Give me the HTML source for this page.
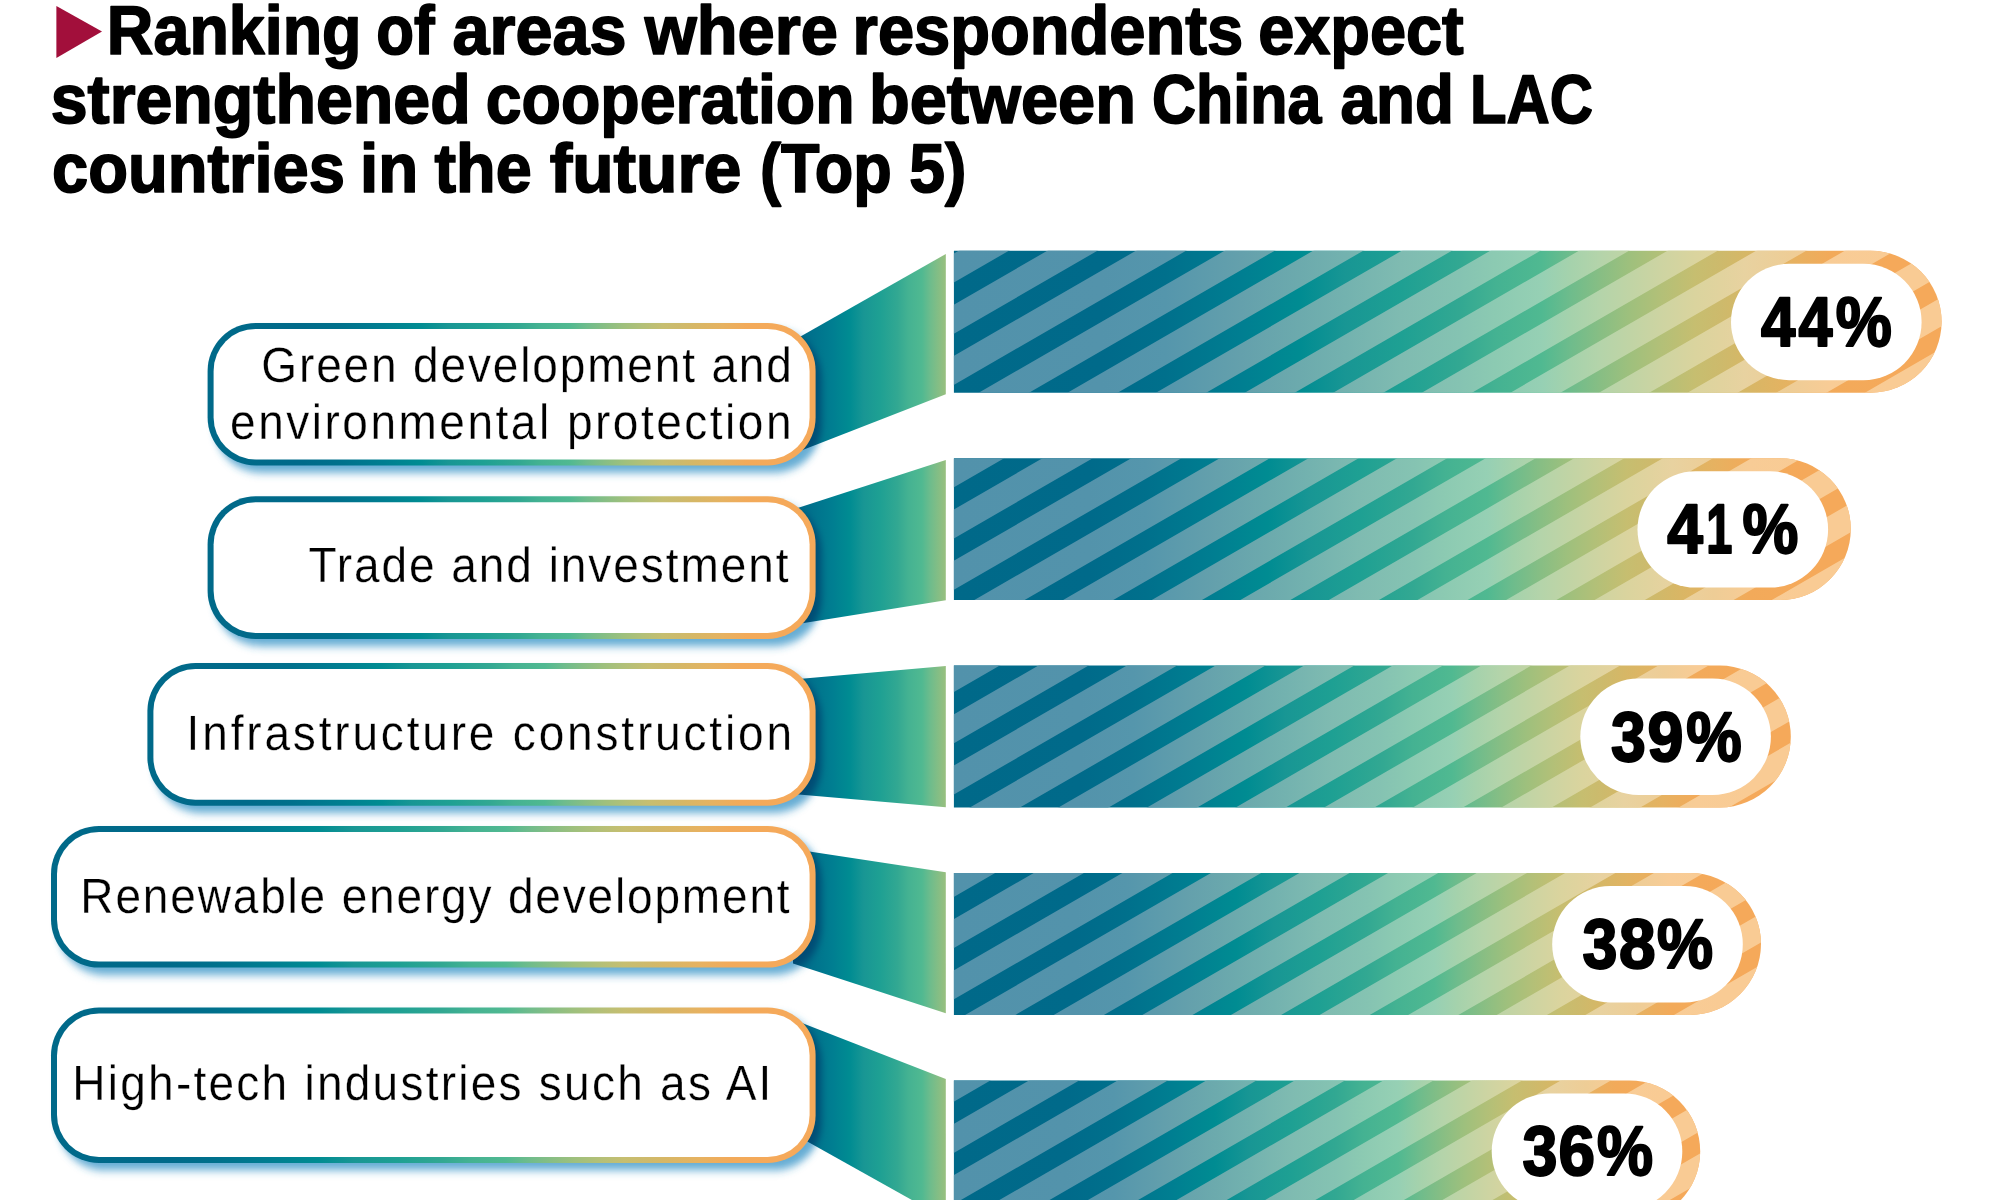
<!DOCTYPE html>
<html lang="en"><head><meta charset="utf-8">
<title>Ranking of areas where respondents expect strengthened cooperation between China and LAC countries in the future (Top 5)</title>
<style>html,body{margin:0;padding:0;background:#fff;}body{width:2000px;height:1200px;overflow:hidden;}svg{display:block;}text{font-family:"Liberation Sans",sans-serif;fill:#000;text-rendering:geometricPrecision;}.t{font-weight:700;font-size:69px;stroke:#000;stroke-width:1.7px;stroke-linejoin:round;}.l{font-weight:400;font-size:49.5px;stroke:#fff;stroke-width:0.3px;}.p{font-weight:700;font-size:70px;stroke:#000;stroke-width:2.2px;stroke-linejoin:round;}</style></head><body>
<svg width="2000" height="1200" viewBox="0 0 2000 1200">
<defs>
<linearGradient id="gD" x1="0" y1="0" x2="1" y2="0"><stop offset="0.000" stop-color="#006989"/><stop offset="0.150" stop-color="#006a8a"/><stop offset="0.214" stop-color="#00708c"/><stop offset="0.290" stop-color="#007e91"/><stop offset="0.350" stop-color="#008c92"/><stop offset="0.396" stop-color="#189694"/><stop offset="0.452" stop-color="#1ea093"/><stop offset="0.512" stop-color="#32a892"/><stop offset="0.548" stop-color="#44b292"/><stop offset="0.595" stop-color="#50b991"/><stop offset="0.624" stop-color="#6ebc8c"/><stop offset="0.654" stop-color="#87be84"/><stop offset="0.684" stop-color="#9ec07d"/><stop offset="0.715" stop-color="#b2c078"/><stop offset="0.750" stop-color="#c6be70"/><stop offset="0.776" stop-color="#cdba6c"/><stop offset="0.801" stop-color="#d6b766"/><stop offset="0.847" stop-color="#e6b261"/><stop offset="0.887" stop-color="#f2aa5a"/><stop offset="0.948" stop-color="#f5a95a"/><stop offset="1.000" stop-color="#f5a95a"/></linearGradient>
<linearGradient id="gL" x1="0" y1="0" x2="1" y2="0"><stop offset="0.000" stop-color="#5292ab"/><stop offset="0.150" stop-color="#5393ab"/><stop offset="0.214" stop-color="#5596ac"/><stop offset="0.290" stop-color="#64a0ac"/><stop offset="0.350" stop-color="#6caaad"/><stop offset="0.396" stop-color="#73b2af"/><stop offset="0.452" stop-color="#7fbbb1"/><stop offset="0.512" stop-color="#85c3b2"/><stop offset="0.548" stop-color="#8ccab2"/><stop offset="0.595" stop-color="#96d0b4"/><stop offset="0.624" stop-color="#a5d2ac"/><stop offset="0.654" stop-color="#b4d4aa"/><stop offset="0.684" stop-color="#c0d4a5"/><stop offset="0.715" stop-color="#cdd4a2"/><stop offset="0.750" stop-color="#dad49e"/><stop offset="0.776" stop-color="#e1d39e"/><stop offset="0.801" stop-color="#e8d2a0"/><stop offset="0.847" stop-color="#eecd96"/><stop offset="0.887" stop-color="#f8cc96"/><stop offset="0.948" stop-color="#f9cb94"/><stop offset="1.000" stop-color="#f9cb94"/></linearGradient>
<linearGradient id="gC" gradientUnits="userSpaceOnUse" x1="747" y1="0" x2="1041" y2="0"><stop offset="0.000" stop-color="#006989"/><stop offset="0.150" stop-color="#006a8a"/><stop offset="0.214" stop-color="#00708c"/><stop offset="0.290" stop-color="#007e91"/><stop offset="0.350" stop-color="#008c92"/><stop offset="0.396" stop-color="#189694"/><stop offset="0.452" stop-color="#1ea093"/><stop offset="0.512" stop-color="#32a892"/><stop offset="0.548" stop-color="#44b292"/><stop offset="0.595" stop-color="#50b991"/><stop offset="0.624" stop-color="#6ebc8c"/><stop offset="0.654" stop-color="#87be84"/><stop offset="0.684" stop-color="#9ec07d"/><stop offset="0.715" stop-color="#b2c078"/><stop offset="0.750" stop-color="#c6be70"/><stop offset="0.776" stop-color="#cdba6c"/><stop offset="0.801" stop-color="#d6b766"/><stop offset="0.847" stop-color="#e6b261"/><stop offset="0.887" stop-color="#f2aa5a"/><stop offset="0.948" stop-color="#f5a95a"/><stop offset="1.000" stop-color="#f5a95a"/></linearGradient>
<filter id="fS" x="-5%" y="-25%" width="110%" height="160%"><feGaussianBlur stdDeviation="3 4.1"/></filter>
<mask id="mS" maskUnits="userSpaceOnUse" x="900" y="200" width="1100" height="1000"><path d="M900 247.94L2000 -387.66M900 299.14L2000 -336.46M900 350.34L2000 -285.26M900 401.54L2000 -234.06M900 452.74L2000 -182.86M900 503.93L2000 -131.66M900 555.13L2000 -80.47M900 606.33L2000 -29.27M900 657.53L2000 21.93M900 708.73L2000 73.13M900 759.92L2000 124.33M900 811.12L2000 175.53M900 862.32L2000 226.72M900 913.52L2000 277.92M900 964.72L2000 329.12M900 1015.92L2000 380.32M900 1067.11L2000 431.52M900 1118.31L2000 482.71M900 1169.51L2000 533.91M900 1220.71L2000 585.11M900 1271.91L2000 636.31M900 1323.1L2000 687.51M900 1374.3L2000 738.71M900 1425.5L2000 789.9M900 1476.7L2000 841.1M900 1527.9L2000 892.3M900 1579.1L2000 943.5M900 1630.29L2000 994.7M900 1681.49L2000 1045.89M900 1732.69L2000 1097.09M900 1783.89L2000 1148.29M900 1835.09L2000 1199.49M900 1886.28L2000 1250.69" fill="none" stroke="#fff" stroke-width="25.1"/></mask>
</defs>
<rect width="2000" height="1200" fill="#fff"/>
<path d="M793 340.79L945.8 254V394.2L793 453.64Z" fill="url(#gC)"/>
<path d="M793 509.51L945.8 460V600.3L793 624.75Z" fill="url(#gC)"/>
<path d="M793 679.45L945.8 666V807.3L793 794.08Z" fill="url(#gC)"/>
<path d="M793 849.07L945.8 872.3V1013.3L793 963.49Z" fill="url(#gC)"/>
<path d="M793 1019.41L945.8 1079V1219L793 1133.43Z" fill="url(#gC)"/>
<rect x="213.6" y="330.2" width="608" height="142.5" rx="48" fill="#3391c6" fill-opacity="0.75" filter="url(#fS)" style="mix-blend-mode:multiply"/>
<rect x="213.6" y="503.6" width="608" height="142.6" rx="48" fill="#3391c6" fill-opacity="0.75" filter="url(#fS)" style="mix-blend-mode:multiply"/>
<rect x="153.4" y="670.4" width="668.2" height="142.6" rx="48" fill="#3391c6" fill-opacity="0.75" filter="url(#fS)" style="mix-blend-mode:multiply"/>
<rect x="57" y="833.2" width="764.6" height="141.7" rx="48" fill="#3391c6" fill-opacity="0.75" filter="url(#fS)" style="mix-blend-mode:multiply"/>
<rect x="57" y="1014.7" width="764.6" height="155.6" rx="48" fill="#3391c6" fill-opacity="0.75" filter="url(#fS)" style="mix-blend-mode:multiply"/>
<rect x="207.6" y="322.9" width="608" height="142.5" rx="48" fill="url(#gD)"/>
<rect x="213.6" y="328.9" width="596" height="130.5" rx="42" fill="#fff"/>
<rect x="207.6" y="496.3" width="608" height="142.6" rx="48" fill="url(#gD)"/>
<rect x="213.6" y="502.3" width="596" height="130.6" rx="42" fill="#fff"/>
<rect x="147.4" y="663.1" width="668.2" height="142.6" rx="48" fill="url(#gD)"/>
<rect x="153.4" y="669.1" width="656.2" height="130.6" rx="42" fill="#fff"/>
<rect x="51" y="825.9" width="764.6" height="141.7" rx="48" fill="url(#gD)"/>
<rect x="57" y="831.9" width="752.6" height="129.7" rx="42" fill="#fff"/>
<rect x="51" y="1007.4" width="764.6" height="155.6" rx="48" fill="url(#gD)"/>
<rect x="57" y="1013.4" width="752.6" height="143.6" rx="42" fill="#fff"/>
<path d="M953.9 250.8H1870.65A70.95 70.95 0 0 1 1870.65 392.7H953.9Z" fill="url(#gD)"/>
<g mask="url(#mS)"><path d="M953.9 250.8H1870.65A70.95 70.95 0 0 1 1870.65 392.7H953.9Z" fill="url(#gL)"/></g>
<rect x="1731" y="263.8" width="190.6" height="116.4" rx="58.2" fill="#fff"/>
<path d="M953.9 458.2H1779.85A70.95 70.95 0 0 1 1779.85 600.1H953.9Z" fill="url(#gD)"/>
<g mask="url(#mS)"><path d="M953.9 458.2H1779.85A70.95 70.95 0 0 1 1779.85 600.1H953.9Z" fill="url(#gL)"/></g>
<rect x="1637.5" y="471.2" width="190.6" height="116.4" rx="58.2" fill="#fff"/>
<path d="M953.9 665.6H1719.85A70.95 70.95 0 0 1 1719.85 807.5H953.9Z" fill="url(#gD)"/>
<g mask="url(#mS)"><path d="M953.9 665.6H1719.85A70.95 70.95 0 0 1 1719.85 807.5H953.9Z" fill="url(#gL)"/></g>
<rect x="1580.3" y="678.6" width="190.6" height="116.4" rx="58.2" fill="#fff"/>
<path d="M953.9 873H1690.05A70.95 70.95 0 0 1 1690.05 1014.9H953.9Z" fill="url(#gD)"/>
<g mask="url(#mS)"><path d="M953.9 873H1690.05A70.95 70.95 0 0 1 1690.05 1014.9H953.9Z" fill="url(#gL)"/></g>
<rect x="1552.2" y="886" width="190.6" height="116.4" rx="58.2" fill="#fff"/>
<path d="M953.9 1080.4H1629.25A70.95 70.95 0 0 1 1629.25 1222.3H953.9Z" fill="url(#gD)"/>
<g mask="url(#mS)"><path d="M953.9 1080.4H1629.25A70.95 70.95 0 0 1 1629.25 1222.3H953.9Z" fill="url(#gL)"/></g>
<rect x="1491.7" y="1093.4" width="190.6" height="116.4" rx="58.2" fill="#fff"/>
<path d="M56.4 6L102 31.6L56.4 58Z" fill="#a20f3b"/>
<text class="t"><tspan x="106.86" y="54" textLength="254.69" lengthAdjust="spacingAndGlyphs">Ranking</tspan> <tspan x="376.32" y="54" textLength="58.39" lengthAdjust="spacingAndGlyphs">of</tspan> <tspan x="452.48" y="54" textLength="174.06" lengthAdjust="spacingAndGlyphs">areas</tspan> <tspan x="644.65" y="54" textLength="193.19" lengthAdjust="spacingAndGlyphs">where</tspan> <tspan x="852.59" y="54" textLength="390.53" lengthAdjust="spacingAndGlyphs">respondents</tspan> <tspan x="1258.19" y="54" textLength="205.53" lengthAdjust="spacingAndGlyphs">expect</tspan></text>
<text class="t"><tspan x="50.75" y="122.9" textLength="419.93" lengthAdjust="spacingAndGlyphs">strengthened</tspan> <tspan x="485.76" y="122.9" textLength="368.78" lengthAdjust="spacingAndGlyphs">cooperation</tspan> <tspan x="868.97" y="122.9" textLength="266.98" lengthAdjust="spacingAndGlyphs">between</tspan> <tspan x="1152.09" y="122.9" textLength="169.2" lengthAdjust="spacingAndGlyphs">China</tspan> <tspan x="1340.58" y="122.9" textLength="113.38" lengthAdjust="spacingAndGlyphs">and</tspan> <tspan x="1470.04" y="122.9" textLength="122.94" lengthAdjust="spacingAndGlyphs">LAC</tspan></text>
<text class="t"><tspan x="52.02" y="191.7" textLength="292.89" lengthAdjust="spacingAndGlyphs">countries</tspan> <tspan x="360.1" y="191.7" textLength="58.18" lengthAdjust="spacingAndGlyphs">in</tspan> <tspan x="434.55" y="191.7" textLength="97.18" lengthAdjust="spacingAndGlyphs">the</tspan> <tspan x="549.7" y="191.7" textLength="191.78" lengthAdjust="spacingAndGlyphs">future</tspan> <tspan x="760.05" y="191.7" textLength="131.73" lengthAdjust="spacingAndGlyphs">(Top</tspan> <tspan x="909.22" y="191.7" textLength="57.08" lengthAdjust="spacingAndGlyphs">5)</tspan></text>
<text class="l" transform="scale(0.93 1)"><tspan x="281.06" y="382" textLength="570.43" lengthAdjust="spacing">Green development and</tspan> <tspan x="247.37" y="438.6" textLength="603.75" lengthAdjust="spacing">environmental protection</tspan></text>
<text class="l" transform="scale(0.93 1)"><tspan x="331.61" y="581.8" textLength="516.34" lengthAdjust="spacing">Trade and investment</tspan></text>
<text class="l" transform="scale(0.93 1)"><tspan x="200.66" y="750.4" textLength="651" lengthAdjust="spacing">Infrastructure construction</tspan></text>
<text class="l" transform="scale(0.93 1)"><tspan x="86.39" y="913" textLength="762.72" lengthAdjust="spacing">Renewable energy development</tspan></text>
<text class="l" transform="scale(0.93 1)"><tspan x="77.76" y="1099.6" textLength="751.69" lengthAdjust="spacing">High-tech industries such as AI</tspan></text>
<text class="p"><tspan x="1761" y="345.7" textLength="34.39" lengthAdjust="spacingAndGlyphs">4</tspan><tspan x="1798.62" y="345.7" textLength="33.95" lengthAdjust="spacingAndGlyphs">4</tspan><tspan x="1835.8" y="345.7" textLength="56.03" lengthAdjust="spacingAndGlyphs">%</tspan></text>
<text class="p"><tspan x="1667.25" y="553.1" textLength="35.64" lengthAdjust="spacingAndGlyphs">4</tspan><tspan x="1706.37" y="553.1" textLength="26.13" lengthAdjust="spacingAndGlyphs">1</tspan><tspan x="1742.54" y="553.1" textLength="55.8" lengthAdjust="spacingAndGlyphs">%</tspan></text>
<text class="p"><tspan x="1610.9" y="760.5" textLength="34.76" lengthAdjust="spacingAndGlyphs">3</tspan><tspan x="1647.47" y="760.5" textLength="35.99" lengthAdjust="spacingAndGlyphs">9</tspan><tspan x="1686.26" y="760.5" textLength="55.42" lengthAdjust="spacingAndGlyphs">%</tspan></text>
<text class="p"><tspan x="1582.54" y="967.9" textLength="34.87" lengthAdjust="spacingAndGlyphs">3</tspan><tspan x="1619" y="967.9" textLength="36.59" lengthAdjust="spacingAndGlyphs">8</tspan><tspan x="1656.91" y="967.9" textLength="56.02" lengthAdjust="spacingAndGlyphs">%</tspan></text>
<text class="p"><tspan x="1522.54" y="1175.3" textLength="34.87" lengthAdjust="spacingAndGlyphs">3</tspan><tspan x="1558.5" y="1175.3" textLength="36.49" lengthAdjust="spacingAndGlyphs">6</tspan><tspan x="1596.91" y="1175.3" textLength="56.02" lengthAdjust="spacingAndGlyphs">%</tspan></text>
</svg></body></html>
